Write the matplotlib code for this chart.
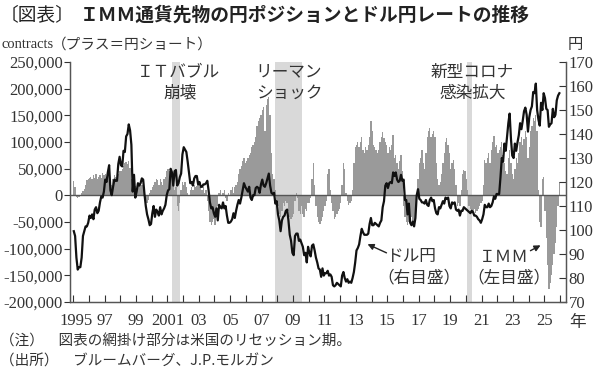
import numpy as np
import matplotlib
matplotlib.use("Agg")
import matplotlib.pyplot as plt
from matplotlib.transforms import ScaledTranslation

plt.rcParams['font.family'] = ['Liberation Serif', 'Noto Sans CJK JP', 'DejaVu Sans']

START_YEAR = 1995

# USD/JPY, monthly (yen per dollar), Jan 1995 - Dec 2025
usdjpy = [
    99.5, 97.5, 88.5, 83.5, 84.5, 84.5, 88.5, 97.5, 99.5, 101.5, 101.5, 103,      # 1995
    106, 105, 106.5, 104.5, 108.5, 109.5, 107, 108, 111.5, 114, 113.5, 116,        # 1996
    121, 120, 124, 127, 116.5, 114.5, 118, 121, 120.5, 120.5, 127.5, 130.5,        # 1997
    127, 126.5, 133, 132.5, 139, 140, 144, 141.5, 135.5, 116, 123, 113.5,          # 1998
    116, 119.5, 118.5, 119.5, 121.5, 121, 115, 110, 106.5, 104.5, 102, 102.5,      # 1999
    107, 110, 105.5, 108.5, 107.5, 106, 109.5, 106.5, 108, 109, 110.5, 114.5,      # 2000
    116.5, 117, 125.5, 124, 118.5, 124.5, 125, 118.5, 119.5, 122, 123.5, 131.5,    # 2001
    134.5, 133.5, 132.5, 128.5, 124, 119.5, 120, 118.5, 121.5, 122.5, 122.5, 119,  # 2002
    120, 118, 118, 119, 119, 119.5, 120.5, 116.5, 111.5, 109, 109.5, 107,          # 2003
    105.5, 109, 104, 110.5, 109.5, 109, 111.5, 109, 110, 106, 103, 103,            # 2004
    103.5, 104.5, 107, 105, 108, 110.5, 112.5, 111, 113.5, 116.5, 119.5, 118,      # 2005
    117, 116, 118, 113.5, 112.5, 114.5, 114.5, 117.5, 118, 117.5, 115.5, 119,      # 2006
    121, 118.5, 118, 119.5, 121.5, 123.5, 118.5, 115.5, 115, 115.5, 111, 112,      # 2007
    106.5, 104, 99.5, 104, 105.5, 106, 108, 108.5, 104, 98, 95.5, 90.5,            # 2008
    89.5, 97.5, 98.5, 98.5, 95.5, 96, 94.5, 93, 89.5, 90.5, 86.5, 93,              # 2009
    90.5, 89, 93.5, 94, 91.5, 88.5, 86.5, 84, 83.5, 80.5, 84, 81,                  # 2010
    82, 82, 83, 81, 81.5, 80.5, 77, 76.5, 77, 78, 77.5, 77,                        # 2011
    76.5, 81, 82.5, 80, 78.5, 79.5, 78, 78.5, 78, 80, 82.5, 86.5,                  # 2012
    91.5, 92.5, 94, 97.5, 100.5, 99, 98, 98, 98, 98.5, 102.5, 105,                 # 2013
    102, 102, 103, 102.5, 102, 101.5, 103, 104, 109.5, 112, 118.5, 119.5,          # 2014
    117.5, 119.5, 120, 119.5, 124, 122.5, 124, 121, 120, 120.5, 123, 120.5,        # 2015
    121, 112.5, 112.5, 106.5, 111, 103, 102, 103.5, 101.5, 105, 114.5, 117,        # 2016
    113, 112.5, 111.5, 111.5, 111, 112.5, 110.5, 110, 112.5, 113.5, 112, 112.5,    # 2017
    109, 107, 106.5, 109.5, 109, 110.5, 112, 111, 113.5, 113, 113.5, 110,          # 2018
    109, 111.5, 111, 111.5, 108.5, 108, 108.5, 106, 108, 108, 109.5, 109,          # 2019
    108.5, 108, 107.5, 107, 108, 107.5, 106, 106, 105.5, 104.5, 104, 103,          # 2020
    104.5, 106.5, 110.5, 109.5, 109.5, 111, 109.5, 110, 111.5, 114, 113, 115,      # 2021
    115, 115, 122, 130, 128.5, 136, 133, 139, 144.5, 148.5, 138, 131,              # 2022
    130, 136, 133, 136.5, 139.5, 144.5, 142, 145.5, 149.5, 151, 148, 141,          # 2023
    147, 150, 151.5, 157.5, 157, 161, 150, 146, 143.5, 153, 150, 157,              # 2024
    155, 150.5, 150, 143, 144, 144.5, 150.5, 147, 148, 154, 156, 157,              # 2025
]

# IMM yen net positions, monthly (thousand contracts, plus = yen short)
imm_k = [
    27, 15, -3, -5, -4, -2, 5, 8, 12, 20, 28, 30,                 # 1995
    32, 35, 30, 38, 33, 40, 30, 35, 38, 32, 42, 38,               # 1996
    40, 35, 45, 50, 25, 20, 30, 38, 35, 30, 40, 45,               # 1997
    45, 50, 55, 60, 62, 58, 65, 52, 30, 10, 22, 18,               # 1998
    10, 15, 20, 25, 20, 10, -5, -12, -15, -8, 5, 10,              # 1999
    15, 20, 25, 30, 28, 20, 30, 25, 20, 30, 35, 45,               # 2000
    50, 45, 40, 35, 20, 10, 15, -20, -30, -15, 10, 25,            # 2001
    20, 25, 15, 5, 0, 10, 15, 10, 20, 15, 18, 20,                 # 2002
    15, 20, 10, 15, 5, 10, -10, -30, -50, -55, -50, -45,          # 2003
    -55, -40, -20, 5, 10, 0, 5, 10, -5, -10, 5, 0,                # 2004
    10, 15, 5, 15, 20, 25, 40, 50, 55, 65, 70, 60,                # 2005
    65, 70, 75, 80, 90, 95, 100, 110, 130, 140, 145, 150,         # 2006
    160, 165, 120, 170, 180, 185, 150, 80, 40, 30, 10, -20,       # 2007
    -20, -35, -40, -30, -15, -20, -10, -15, -30, -40, -45, -40,   # 2008
    -35, -10, 5, -5, -30, -35, -20, -35, -40, -25, -30, -15,      # 2009
    -15, -5, 30, 60, 20, -20, -40, -50, -53, -48, -40, -30,       # 2010
    -20, -10, 40, 50, 10, -15, -30, -44, -40, -35, -30, -25,      # 2011
    -15, 20, 60, 50, 5, -10, -19, -15, -10, 10, 60, 90,           # 2012
    95, 100, 90, 100, 110, 85, 80, 90, 85, 95, 110, 140,          # 2013
    120, 95, 90, 85, 80, 85, 100, 110, 119, 107, 100, 95,         # 2014
    80, 90, 85, 95, 113, 70, 75, 60, 50, 65, 75, 45,              # 2015
    -20, -40, -50, -56, -50, -45, -40, -50, -56, -45, -20, 30,    # 2016
    60, 70, 85, 60, 50, 80, 110, 120, 126, 110, 115, 120,         # 2017
    110, 60, 30, 20, 25, 40, 60, 80, 100, 107, 95, 80,            # 2018
    50, 60, 66, 50, 20, -20, -15, -20, 10, 40, 47, 45,            # 2019
    30, 10, -20, -25, -30, -30, -25, -33, -30, -25, -20, -15,     # 2020
    -10, 20, 67, 60, 70, 80, 60, 85, 100, 111, 90, 95,            # 2021
    80, 85, 90, 100, 75, 60, 45, 40, 70, 85, 60, 40,              # 2022
    30, 50, 70, 60, 80, 100, 110, 95, 105, 120, 110, 70,          # 2023
    90, 120, 130, 145, 140, 150, 120, 10, -50, -60, 30, 35,       # 2024
    -30, -80, -130, -175, -165, -150, -130, -110, -90, -60, -20, 25,  # 2025
]

recessions = [(2001.3, 2001.8), (2007.85, 2009.55), (2020.1, 2020.4)]

left_ticks = [-200000, -150000, -100000, -50000, 0, 50000, 100000, 150000, 200000, 250000]
right_ticks = [70, 80, 90, 100, 110, 120, 130, 140, 150, 160, 170]
year_ticks = list(range(1995, 2027))
year_labels = {1995: "1995", 1997: "97", 1999: "99", 2001: "2001", 2003: "03", 2005: "05",
               2007: "07", 2009: "09", 2011: "11", 2013: "13", 2015: "15", 2017: "17",
               2019: "19", 2021: "21", 2023: "23", 2025: "25"}

JP = ['Noto Sans CJK JP', 'DejaVu Sans']
W, H = 600, 377

fig = plt.figure(figsize=(6.0, 3.77), dpi=100)
ax = fig.add_axes([70 / W, 1 - 302 / H, (566 - 70) / W, (302 - 62) / H])

t = START_YEAR + np.arange(len(usdjpy)) / 12.0 + 1 / 24
t_imm = START_YEAR + np.arange(len(imm_k)) / 12.0 + 1 / 24
imm = np.array(imm_k) * 1000

for a, b in recessions:
    ax.axvspan(a, b, color='#d9d9d9', lw=0, zorder=0)

ax.bar(t_imm, imm, width=1 / 12, color='#9a9a9a', edgecolor='none', zorder=1)
ax.axhline(0, color='#555555', lw=1.0, zorder=2)

ax.set_xlim(1994.8, 2026.38)
ax.set_ylim(-200000, 250000)
ax.set_yticks(left_ticks)
ax.set_yticklabels([f"{v:,}" for v in left_ticks])
ax.set_xticks(year_ticks)
ax.set_xticklabels([year_labels.get(y, "") for y in year_ticks])
ax.tick_params(axis='y', direction='out', length=4, width=0.8, labelsize=12,
               colors='#333333', pad=1)
ax.tick_params(axis='x', direction='in', length=5, width=0.8, labelsize=12,
               colors='#333333', pad=8)
ax.spines['top'].set_visible(False)
for s in ['left', 'bottom', 'right']:
    ax.spines[s].set_color('#555555')
    ax.spines[s].set_linewidth(0.9)

# shift first year label slightly right as in the reference
lbl0 = ax.get_xticklabels()[0]
lbl0.set_transform(lbl0.get_transform() + ScaledTranslation(0.025, 0, fig.dpi_scale_trans))

ax2 = ax.twinx()
ax2.plot(t, usdjpy, color='#111111', lw=1.6, zorder=3)
ax2.set_ylim(70, 170)
ax2.set_yticks(right_ticks)
ax2.tick_params(axis='y', direction='in', length=5, width=0.8, labelsize=12,
                colors='#333333', pad=2)
ax2.spines['top'].set_visible(False)
for s in ['left', 'bottom', 'right']:
    ax2.spines[s].set_color('#555555')
    ax2.spines[s].set_linewidth(0.9)

def ftext(x, y, s, **kw):
    fig.text(x / W, 1 - y / H, s, **kw)

# title
ftext(0, 15, "〔図表〕", fontsize=13.5, family=JP, va='center', ha='left', color='#222222')
ftext(80, 15, "ＩＭＭ通貨先物の円ポジションとドル円レートの推移", fontsize=13.5,
      family=JP, fontweight='bold', va='center', ha='left', color='#222222')

ftext(2, 45, "contracts", fontsize=10.5, family=['Liberation Serif'], va='center', ha='left', color='#333333')
ftext(52, 45, "（プラス＝円ショート）", fontsize=10.5, family=JP, va='center', ha='left', color='#333333')
ftext(575, 45, "円", fontsize=11, family=JP, va='center', ha='center', color='#333333')
ftext(578, 323, "年", fontsize=12, family=JP, va='center', ha='center', color='#333333')

# event labels
ann = dict(fontsize=12, family=JP, ha='center', va='center', color='#333333')
ftext(178, 72, "ＩＴバブル", **ann)
ftext(180, 93, "崩壊", **ann)
ftext(289, 72, "リーマン", **ann)
ftext(289, 93, "ショック", **ann)
ftext(472, 72, "新型コロナ", **ann)
ftext(473, 93, "感染拡大", **ann)

ftext(411, 257, "ドル円", **ann)
ftext(419, 278, "（右目盛）", **ann)
ftext(504, 258, "ＩＭＭ", **ann)
ftext(509, 278, "（左目盛）", **ann)

fig.add_artist(plt.Annotation("", xy=(365 / W, 1 - 243 / H), xytext=(389 / W, 1 - 254 / H),
                              xycoords='figure fraction', textcoords='figure fraction',
                              arrowprops=dict(arrowstyle='-|>', color='#222222', lw=1.0,
                                              mutation_scale=9)))
fig.add_artist(plt.Annotation("", xy=(543 / W, 1 - 244 / H), xytext=(528 / W, 1 - 252 / H),
                              xycoords='figure fraction', textcoords='figure fraction',
                              arrowprops=dict(arrowstyle='-|>', color='#222222', lw=1.0,
                                              mutation_scale=9)))

# notes
ftext(0, 342, "（注）　図表の網掛け部分は米国のリセッション期。", fontsize=10.5, family=JP,
      va='center', ha='left', color='#333333')
ftext(0, 362, "（出所）　ブルームバーグ、J.P.モルガン", fontsize=10.5, family=JP,
      va='center', ha='left', color='#333333')

fig.savefig("out.png", dpi=100)
